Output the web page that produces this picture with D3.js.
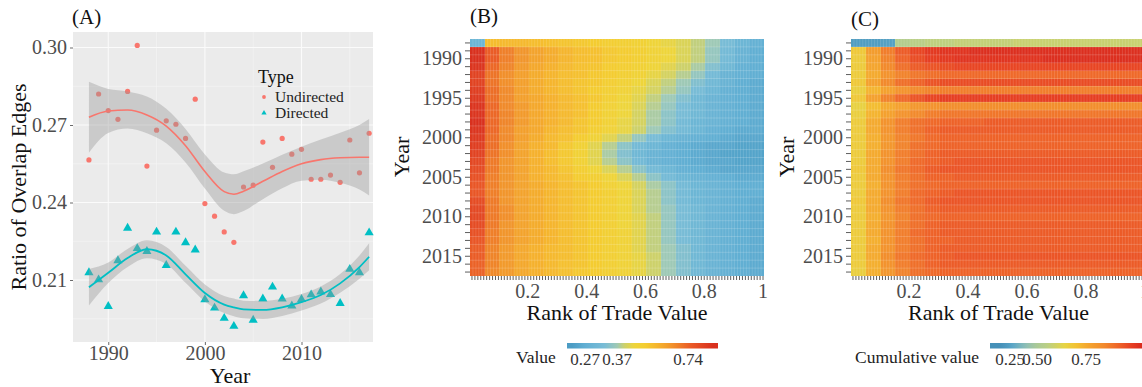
<!DOCTYPE html>
<html>
<head>
<meta charset="utf-8">
<script src="https://cdn.jsdelivr.net/npm/d3@7/dist/d3.min.js"></script>
<style>
  body { margin: 0; background: #fff; }
  svg { display: block; }
  svg text { font-family: "Liberation Serif", "DejaVu Serif", serif; }
</style>
</head>
<body>
<svg id="fig" width="1142" height="387"></svg>
<script>
// ---------- Panel A: ratio of overlap edges by year ----------
const years = [1988,1989,1990,1991,1992,1993,1994,1995,1996,1997,1998,1999,2000,2001,2002,
               2003,2004,2005,2006,2007,2008,2009,2010,2011,2012,2013,2014,2015,2016,2017];
const undirected = [0.2565,0.2820,0.2756,0.2722,0.2830,0.3008,0.2541,0.2680,0.2716,0.2703,
                    0.2648,0.2800,0.2396,0.2347,0.2286,0.2246,0.2460,0.2467,0.2634,0.2536,
                    0.2648,0.2587,0.2606,0.2490,0.2490,0.2506,0.2478,0.2642,0.2515,0.2668];
const directed   = [0.2129,0.2101,0.1998,0.2175,0.2301,0.2222,0.2211,0.2286,0.2157,0.2286,
                    0.2245,0.2217,0.2024,0.1992,0.1952,0.1921,0.2040,0.1945,0.2027,0.2073,
                    0.2027,0.2000,0.2025,0.2043,0.2054,0.2044,0.2010,0.2142,0.2129,0.2283];

// smoothed trend with confidence band
const fitYears = [1988,1990,1992,1994,1996,1998,2000,2002,2003,2004,2006,2008,2010,2012,2014,2016,2017];
const undirFit = [0.2730,0.2754,0.2758,0.2739,0.2696,0.2620,0.2520,0.2442,0.2432,0.2444,0.2482,0.2520,0.2550,0.2566,0.2573,0.2575,0.2575];
const undirHi  = [0.2867,0.2839,0.2830,0.2810,0.2763,0.2685,0.2586,0.2516,0.2509,0.2521,0.2551,0.2585,0.2616,0.2644,0.2670,0.2700,0.2723];
const undirLo  = [0.2593,0.2669,0.2686,0.2668,0.2629,0.2555,0.2454,0.2368,0.2355,0.2367,0.2413,0.2455,0.2484,0.2488,0.2476,0.2450,0.2427];
const dirFit   = [0.2072,0.2128,0.2185,0.2219,0.2195,0.2122,0.2050,0.2005,0.1994,0.1986,0.1984,0.1994,0.2014,0.2042,0.2087,0.2150,0.2190];
const dirHi    = [0.2143,0.2168,0.2220,0.2254,0.2228,0.2155,0.2083,0.2038,0.2028,0.2020,0.2019,0.2027,0.2046,0.2075,0.2123,0.2195,0.2242];
const dirLo    = [0.2001,0.2088,0.2150,0.2184,0.2162,0.2089,0.2017,0.1972,0.1960,0.1952,0.1949,0.1961,0.1982,0.2009,0.2051,0.2105,0.2138];

const yTicksA = [0.21, 0.24, 0.27, 0.30];
const yMinorA = [0.195, 0.225, 0.255, 0.285];
const xTicksA = [1990, 2000, 2010];
const xMinorA = [1995, 2005, 2015];
const typeNames = ["Undirected", "Directed"];

// ---------- Panels B and C: heatmaps by year and trade-value rank ----------
const rankTicks = [0.2, 0.4, 0.6, 0.8, 1];
const yearTicks = [1990, 1995, 2000, 2005, 2010, 2015];
const rankCount = 100;          // ranks shown on the axis
const blockWidth = 0.05;        // rank span of one stored value

// Value (x100), one row per year, one entry per 0.05 of rank
const valueB = [
  [30,56,57,57,56,55,54,53,52,51,50,49,47,45,43,40,37,33,30,28],
  [84,75,69,65,62,60,58,56,55,53,52,50,48,46,43,40,36,32,29,27],
  [85,75,69,65,62,60,58,56,55,53,52,50,48,46,43,40,36,32,29,27],
  [83,73,68,64,61,59,57,55,54,52,51,49,47,44,41,38,34,31,28,27],
  [80,71,66,63,60,58,56,55,53,52,50,48,45,42,39,36,32,29,28,27],
  [80,71,66,63,60,58,56,54,53,51,49,46,43,40,37,34,31,29,27,26],
  [81,72,67,63,60,58,56,54,52,50,48,45,42,39,36,33,30,28,27,26],
  [82,72,67,63,61,59,57,55,53,50,47,44,40,37,34,31,29,28,27,26],
  [83,73,67,64,61,59,57,55,52,49,46,43,39,36,33,31,29,28,27,26],
  [83,73,68,64,61,59,57,55,52,49,46,42,38,35,33,31,29,28,27,26],
  [84,73,68,64,61,59,57,54,52,49,45,42,38,35,32,30,29,28,27,26],
  [83,73,67,63,61,58,56,54,51,48,45,41,37,34,32,30,28,27,26,26],
  [82,72,67,63,60,57,55,52,48,44,40,36,33,30,29,28,27,26,25,25],
  [81,72,66,62,59,57,53,49,44,39,35,32,30,28,27,26,25,25,24,24],
  [80,71,66,62,59,56,53,49,44,38,34,31,29,28,27,26,25,24,24,24],
  [79,70,65,62,59,56,53,49,44,39,35,32,29,28,27,26,25,25,24,24],
  [78,70,65,62,59,57,54,51,47,43,39,35,32,30,28,27,26,25,25,25],
  [77,69,65,62,59,57,55,52,50,47,43,39,35,32,30,29,28,27,26,26],
  [76,69,65,62,60,58,56,54,52,49,46,42,38,35,32,30,29,28,27,27],
  [76,69,65,62,60,58,56,54,52,50,47,43,39,35,32,30,29,28,27,27],
  [78,70,65,62,60,58,56,54,52,50,47,43,39,35,32,30,29,28,27,26],
  [79,70,66,62,60,58,56,54,52,50,47,43,39,36,33,31,29,28,27,26],
  [79,70,66,62,60,58,56,54,52,50,47,44,40,36,33,31,29,28,27,26],
  [78,70,65,62,60,58,56,54,52,50,47,44,40,36,33,31,29,28,27,26],
  [77,69,65,62,60,58,56,54,52,50,48,44,40,36,33,31,29,28,27,26],
  [76,69,65,62,60,58,56,54,52,50,48,44,40,36,33,31,29,28,27,26],
  [75,68,64,61,59,57,56,54,52,50,48,44,40,37,34,31,29,28,27,26],
  [75,68,64,61,59,57,56,54,52,50,48,45,41,37,34,31,29,28,27,26],
  [74,68,64,61,59,57,55,54,52,50,48,45,41,37,34,31,29,28,27,26],
  [74,67,64,61,59,57,55,53,52,50,48,45,41,37,34,31,29,28,27,26]
];

// Cumulative value (x100), same layout
const cumulativeC = [
  [24,24,25,53,55,56,56,57,57,57,57,58,58,58,58,58,58,58,58,58],
  [68,78,84,89,92,94,95,95,96,96,96,96,96,96,96,96,96,96,96,96],
  [67,77,83,88,91,93,94,95,95,95,95,95,95,96,96,96,96,96,96,96],
  [67,76,82,86,89,90,91,92,92,92,92,92,92,92,92,92,92,92,92,92],
  [67,75,80,83,85,86,87,87,87,87,87,87,87,87,87,87,87,87,87,87],
  [68,77,82,86,88,90,91,91,91,91,91,91,91,91,91,91,91,91,91,91],
  [66,73,77,80,82,83,84,84,84,84,84,84,84,84,84,84,84,84,84,84],
  [68,77,83,87,90,92,93,93,93,93,93,93,93,93,93,93,93,93,93,93],
  [65,71,75,77,79,80,81,81,81,81,81,81,81,81,81,81,81,81,81,81],
  [66,73,77,80,82,84,85,85,85,85,85,85,85,85,85,85,85,85,85,85],
  [67,75,80,84,86,87,88,88,88,89,89,89,89,89,89,89,89,89,89,89],
  [67,75,80,84,86,88,89,89,89,89,89,89,89,89,89,89,89,89,89,89],
  [67,74,79,83,85,87,88,88,88,88,88,88,88,88,88,88,88,88,88,88],
  [67,74,79,83,86,87,88,88,88,88,88,88,88,88,88,88,88,88,88,88],
  [67,75,80,84,86,88,89,89,89,89,89,89,89,89,89,89,89,89,89,89],
  [67,75,80,84,87,88,89,90,90,90,90,90,90,90,90,90,90,90,90,90],
  [68,75,81,85,87,89,90,90,90,90,90,90,90,90,90,90,90,90,90,90],
  [67,75,80,84,86,88,88,89,89,89,89,89,89,89,89,89,89,89,89,89],
  [67,74,80,84,86,87,88,88,88,88,88,88,88,88,88,88,88,88,88,88],
  [67,75,80,84,87,88,89,90,90,90,90,90,90,90,90,90,90,90,90,90],
  [68,75,81,85,87,89,90,90,90,90,90,90,90,90,90,90,90,90,90,90],
  [67,75,80,84,86,88,89,89,89,89,89,89,89,89,89,89,89,89,89,89],
  [67,74,79,83,86,87,88,88,88,88,88,88,88,88,88,88,88,88,88,88],
  [67,75,80,84,86,88,89,89,89,89,89,89,89,89,89,89,89,89,89,89],
  [67,75,80,84,87,88,89,89,89,89,89,89,89,89,89,89,89,89,89,89],
  [67,74,80,84,86,88,88,89,89,89,89,89,89,89,89,89,89,89,89,89],
  [67,75,80,84,86,88,89,89,89,89,89,89,89,89,89,89,89,89,89,89],
  [67,75,81,85,87,88,89,90,90,90,90,90,90,90,90,90,90,90,90,90],
  [67,74,80,84,86,88,89,89,89,89,89,89,89,89,89,89,89,89,89,89],
  [66,74,79,83,86,87,88,88,88,88,88,88,88,88,88,88,88,88,88,88]
];

const legendBTicks = [0.27, 0.37, 0.74];
const legendCTicks = [0.25, 0.50, 0.75];

// ---------- drawing ----------
const FONT = "'Liberation Serif', 'DejaVu Serif', serif";
const svg = d3.select("#fig").attr("font-family", FONT);
const tickGrey = "#4d4d4d";
const red = "#F8766D", teal = "#00BFC4";

function label(sel) { return sel.attr("font-family", FONT); }

/* ===== Panel A ===== */
const A = { left: 73, right: 373, top: 32, bottom: 342 };
const xA = d3.scaleLinear().domain([1986.35, 2017.4]).range([A.left, A.right]);
const yA = d3.scaleLinear().domain([0.186, 0.306]).range([A.bottom, A.top]);

const gA = svg.append("g");
gA.append("rect").attr("x", A.left).attr("y", A.top)
  .attr("width", A.right - A.left).attr("height", A.bottom - A.top).attr("fill", "#ebebeb");

gA.selectAll(".vminor").data(xMinorA).join("line")
  .attr("x1", d => xA(d)).attr("x2", d => xA(d)).attr("y1", A.top).attr("y2", A.bottom)
  .attr("stroke", "#f7f7f7").attr("stroke-width", 0.6);
gA.selectAll(".hminor").data(yMinorA).join("line")
  .attr("y1", d => yA(d)).attr("y2", d => yA(d)).attr("x1", A.left).attr("x2", A.right)
  .attr("stroke", "#f7f7f7").attr("stroke-width", 0.6);
gA.selectAll(".vmajor").data(xTicksA).join("line")
  .attr("x1", d => xA(d)).attr("x2", d => xA(d)).attr("y1", A.top).attr("y2", A.bottom)
  .attr("stroke", "#fbfbfb").attr("stroke-width", 1.1);
gA.selectAll(".hmajor").data(yTicksA).join("line")
  .attr("y1", d => yA(d)).attr("y2", d => yA(d)).attr("x1", A.left).attr("x2", A.right)
  .attr("stroke", "#fbfbfb").attr("stroke-width", 1.1);

// axes
const axA_y = gA.append("g").attr("transform", `translate(${A.left},0)`)
  .call(d3.axisLeft(yA).tickValues(yTicksA).tickFormat(d3.format(".2f")).tickSize(3).tickPadding(3));
const axA_x = gA.append("g").attr("transform", `translate(0,${A.bottom})`)
  .call(d3.axisBottom(xA).tickValues(xTicksA).tickFormat(d3.format("d")).tickSize(3).tickPadding(3));
[axA_y, axA_x].forEach(ax => {
  ax.attr("font-family", FONT);
  ax.select(".domain").remove();
  ax.selectAll("line").attr("stroke", "#444").attr("stroke-width", 0.8);
  label(ax.selectAll("text")).attr("font-size", 20).attr("fill", tickGrey);
});
axA_x.selectAll("text").attr("y", 4).attr("dy", "0.71em");

// points
const ptsU = years.map((y, i) => [y, undirected[i]]);
const ptsD = years.map((y, i) => [y, directed[i]]);
gA.append("g").selectAll("circle").data(ptsU).join("circle")
  .attr("cx", d => xA(d[0])).attr("cy", d => yA(d[1])).attr("r", 2.6).attr("fill", red);
const tri = d3.symbol().type(d3.symbolTriangle).size(36);
gA.append("g").selectAll("path").data(ptsD).join("path")
  .attr("d", tri).attr("transform", d => `translate(${xA(d[0])},${yA(d[1])})`).attr("fill", teal);

// confidence bands and trend lines
const band = (lo, hi) => d3.area().curve(d3.curveMonotoneX)
  .x((d, i) => xA(fitYears[i])).y0((d, i) => yA(lo[i])).y1((d, i) => yA(hi[i]));
const trend = vals => d3.line().curve(d3.curveMonotoneX)
  .x((d, i) => xA(fitYears[i])).y((d, i) => yA(vals[i]));
gA.append("path").attr("d", band(undirLo, undirHi)(fitYears)).attr("fill", "#999").attr("opacity", 0.4);
gA.append("path").attr("d", band(dirLo, dirHi)(fitYears)).attr("fill", "#999").attr("opacity", 0.4);
gA.append("path").attr("d", trend(undirFit)(fitYears)).attr("fill", "none").attr("stroke", red).attr("stroke-width", 1.6);
gA.append("path").attr("d", trend(dirFit)(fitYears)).attr("fill", "none").attr("stroke", teal).attr("stroke-width", 1.8);

// legend
const lg = gA.append("g");
label(lg.append("text")).attr("x", 258).attr("y", 83).attr("font-size", 18).attr("fill", "#111").text("Type");
lg.append("circle").attr("cx", 264).attr("cy", 97).attr("r", 1.9).attr("fill", red);
lg.append("path").attr("d", d3.symbol().type(d3.symbolTriangle).size(12)())
  .attr("transform", "translate(264,113)").attr("fill", teal);
label(lg.selectAll(".lab").data(typeNames).join("text"))
  .attr("x", 275).attr("y", (d, i) => 102 + i * 16).attr("font-size", 15.5).attr("fill", "#222").text(d => d);

// titles
label(svg.append("text")).attr("x", 72).attr("y", 24).attr("font-size", 21).attr("fill", "#111").text("(A)");
label(svg.append("text")).attr("transform", `translate(26,187) rotate(-90)`).attr("text-anchor", "middle")
  .attr("font-size", 22).attr("fill", "#111").text("Ratio of Overlap Edges");
label(svg.append("text")).attr("x", 230).attr("y", 383).attr("text-anchor", "middle")
  .attr("font-size", 22).attr("fill", "#111").text("Year");

/* ===== Heatmap panels ===== */
const colorB = d3.scaleLinear()
  .domain([0.22,0.27,0.33,0.37,0.41,0.46,0.52,0.58,0.64,0.70,0.76,0.84])
  .range(["#4c9cc4","#61afd3","#78bcd6","#9ec9b6","#cdd16a","#eed53a","#f4cc30","#f5b52d","#f29a2b","#ee7a28","#e95626","#d9301e"])
  .clamp(true);
const colorC = d3.scaleLinear()
  .domain([0.20,0.27,0.40,0.55,0.64,0.70,0.76,0.82,0.88,0.93,0.97])
  .range(["#4590b8","#5aa6c8","#8fbfb5","#b9cf86","#e6d444","#f3c232","#f4a52e","#f28a2c","#ee6228","#e63e22","#d92a1e"])
  .clamp(true);

function heatmap(opt) {
  const g = svg.append("g");
  const x = d3.scaleLinear().domain([0, 1]).range([opt.left, opt.right]);
  const y = d3.scaleBand().domain(years).range([39, 276]);

  const cells = [];
  opt.data.forEach((row, r) => row.forEach((v, c) => cells.push({ year: years[r], c, v: v / 100 })));
  g.append("g").selectAll("rect").data(cells).join("rect")
    .attr("x", d => x(d.c * blockWidth)).attr("width", d => x((d.c + 1) * blockWidth) - x(d.c * blockWidth) + 0.3)
    .attr("y", d => y(d.year)).attr("height", y.bandwidth() + 0.3)
    .attr("fill", d => opt.color(d.v)).attr("shape-rendering", "crispEdges");

  // fine cell borders
  const fine = d3.range(1, rankCount).map(i => i / rankCount);
  g.append("g").selectAll("line").data(fine).join("line")
    .attr("x1", d => x(d)).attr("x2", d => x(d)).attr("y1", 39).attr("y2", 276)
    .attr("stroke", "#fff").attr("stroke-opacity", 0.2).attr("stroke-width", 0.7);
  g.append("g").selectAll("line").data(years.slice(1)).join("line")
    .attr("y1", d => y(d)).attr("y2", d => y(d)).attr("x1", opt.left).attr("x2", opt.right)
    .attr("stroke", "#fff").attr("stroke-opacity", 0.25).attr("stroke-width", 0.7);

  // axes: one tick per year / rank, labels only on the listed ones
  const axY = g.append("g").attr("transform", `translate(${opt.left},0)`)
    .call(d3.axisLeft(y).tickValues(years).tickFormat(d => yearTicks.includes(d) ? d : "").tickSize(5).tickPadding(3));
  const centers = d3.range(rankCount).map(i => (i + 0.5) / rankCount);
  const axX = g.append("g").attr("transform", `translate(0,276)`)
    .call(d3.axisBottom(x).tickValues(centers)
      .tickFormat(d => { const t = rankTicks.find(t => Math.abs(t - 0.5 / rankCount - d) < 1e-9); return t === undefined ? "" : String(t); })
      .tickSize(4).tickPadding(4));
  [axY, axX].forEach(ax => {
    ax.attr("font-family", FONT);
    ax.select(".domain").remove();
    ax.selectAll("line").attr("stroke", "#333").attr("stroke-width", 0.8);
    ax.selectAll("text").filter(function () { return this.textContent === ""; }).remove();
    label(ax.selectAll("text")).attr("font-size", 20).attr("fill", tickGrey);
  });

  // titles
  label(svg.append("text")).attr("x", opt.left).attr("y", opt.tagY).attr("font-size", 21).attr("fill", "#111").text(opt.tag);
  label(svg.append("text")).attr("transform", `translate(${opt.yTitleX},157) rotate(-90)`).attr("text-anchor", "middle")
    .attr("font-size", 22).attr("fill", "#111").text("Year");
  label(svg.append("text")).attr("x", (opt.left + opt.right) / 2).attr("y", 320).attr("text-anchor", "middle")
    .attr("font-size", 22).attr("fill", "#111").text("Rank of Trade Value");

  // colour bar legend
  const lpos = d3.scaleLinear().domain(opt.legendValues).range(opt.legendPos);
  const x0 = opt.legendPos[0], x1 = opt.legendPos[opt.legendPos.length - 1];
  const grad = svg.append("defs").append("linearGradient").attr("id", opt.id + "grad")
    .attr("x1", "0%").attr("x2", "100%").attr("y1", "0%").attr("y2", "0%");
  d3.range(0, 61).forEach(k => {
    const px = x0 + (x1 - x0) * k / 60;
    grad.append("stop").attr("offset", (k / 60 * 100) + "%").attr("stop-color", opt.color(lpos.invert(px)));
  });
  svg.append("rect").attr("x", x0).attr("y", 343).attr("width", x1 - x0).attr("height", 5.5)
    .attr("fill", `url(#${opt.id}grad)`);
  label(svg.append("text")).attr("x", opt.legendTitleX).attr("y", 363).attr("font-size", 17.5).attr("fill", "#222").text(opt.legendTitle);
  label(svg.append("g").selectAll("text").data(opt.legendTicks).join("text"))
    .attr("x", d => lpos(d)).attr("y", 365).attr("text-anchor", "middle")
    .attr("font-size", 17).attr("fill", "#333").text(d => d3.format(".2f")(d));
}

heatmap({
  id: "b", left: 470, right: 764, data: valueB, color: colorB, tag: "(B)", tagY: 23, yTitleX: 409,
  legendTitle: "Value", legendTitleX: 516, legendTicks: legendBTicks,
  legendValues: [0.20, 0.27, 0.37, 0.74, 0.86], legendPos: [567, 585, 617, 688, 718]
});
heatmap({
  id: "c", left: 851, right: 1146, data: cumulativeC, color: colorC, tag: "(C)", tagY: 26, yTitleX: 794,
  legendTitle: "Cumulative value", legendTitleX: 855, legendTicks: legendCTicks,
  legendValues: [0.15, 0.25, 0.50, 0.75, 1.0], legendPos: [990, 1010, 1037, 1086, 1150]
});
</script>
</body>
</html>
